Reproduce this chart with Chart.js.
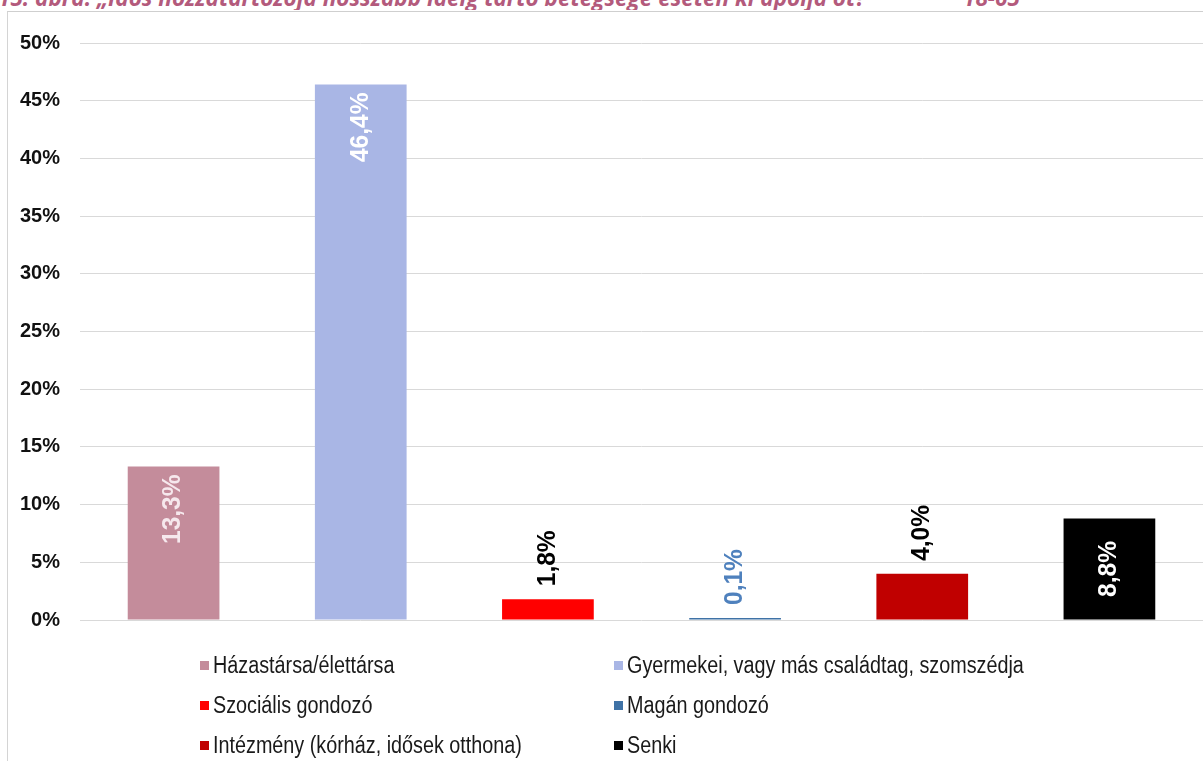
<!DOCTYPE html>
<html lang="hu">
<head>
<meta charset="utf-8">
<script src="https://cdn.jsdelivr.net/npm/chart.js@4/dist/chart.umd.min.js"></script>
<style>
  html, body { margin: 0; padding: 0; background: #fff; }
  #wrap { position: relative; width: 1203px; height: 761px; overflow: hidden; }
  #frame { position: absolute; left: 7px; top: 11px; width: 1300px; height: 800px;
           border-left: 1px solid #d4d4d4; border-top: 1px solid #cfcfcf; }
  #title { position: absolute; left: 0; top: 0; width: 1203px; height: 10px; overflow: hidden; }
  #title span { position: absolute; top: -18px; white-space: nowrap;
                font: italic 700 22.5px "Open Sans", sans-serif; color: #b35a7c; }
  #chart { position: absolute; left: 0; top: 0; }
  .leg { position: absolute; height: 20px; white-space: nowrap; }
  .leg i { position: absolute; left: 0; top: 6px; width: 9px; height: 9px; }
  .leg span { position: absolute; left: 13px; top: -3px; font: 23px "Liberation Sans", Arial, sans-serif;
              color: #1a1a1a; transform: scaleX(0.86); transform-origin: 0 50%; }
</style>
</head>
<body>
<div id="wrap">
  <div id="title">
    <span style="left:-2px">15. ábra: „Idős hozzátartozója hosszabb ideig tartó betegsége esetén ki ápolja őt?”</span>
    <span style="left:963px">18-65</span>
  </div>
  <div id="frame"></div>
  <canvas id="chart" width="1203" height="761"></canvas>
  <div id="legend"></div>
</div>
<script>
// kategóriák és arányok (%)
const kategoriak = [
  'Házastársa/élettársa',
  'Gyermekei, vagy más családtag, szomszédja',
  'Szociális gondozó',
  'Magán gondozó',
  'Intézmény (kórház, idősek otthona)',
  'Senki'
];
const ertekek = [13.3, 46.4, 1.8, 0.1, 4.0, 8.8];
const yTicks = [0, 5, 10, 15, 20, 25, 30, 35, 40, 45, 50];

const szinek = ['#c48c9b', '#a9b6e5', '#ff0000', '#3f72a6', '#c00000', '#000000'];
const cimkeSzinek = ['#f6e8ed', '#ffffff', '#000000', '#4f81bd', '#000000', '#ffffff'];
// felirat helye: a sáv tetején belül, fölötte vagy középen
const cimkeHely = ['end', 'end', 'out', 'out', 'out', 'center'];

// függőleges értékcímkék
const ertekCimkek = {
  id: 'ertekCimkek',
  afterDatasetsDraw(chart) {
    const ctx = chart.ctx;
    const meta = chart.getDatasetMeta(0);
    meta.data.forEach((bar, i) => {
      const txt = ertekek[i].toFixed(1).replace('.', ',') + '%';
      let y, align;
      if (cimkeHely[i] === 'end') { y = bar.y + 8; align = 'right'; }
      else if (cimkeHely[i] === 'out') { y = bar.y - 13; align = 'left'; }
      else { y = (bar.y + bar.base) / 2; align = 'center'; }
      ctx.save();
      ctx.translate(bar.x, y);
      ctx.rotate(-Math.PI / 2);
      ctx.scale(0.98, 1);
      ctx.font = 'bold 25px "Liberation Sans", Arial, sans-serif';
      ctx.fillStyle = cimkeSzinek[i];
      ctx.textAlign = align;
      ctx.textBaseline = 'middle';
      ctx.fillText(txt, 0, 0);
      ctx.restore();
    });
  }
};

new Chart(document.getElementById('chart'), {
  type: 'bar',
  data: {
    labels: kategoriak,
    datasets: [{
      data: ertekek,
      backgroundColor: szinek,
      borderWidth: 0,
      minBarLength: 2,
      categoryPercentage: 1,
      barPercentage: 0.49
    }]
  },
  options: {
    responsive: false,
    animation: false,
    layout: { padding: { top: 43, bottom: 141, left: 0, right: 0 } },
    plugins: { legend: { display: false }, tooltip: { enabled: false } },
    scales: {
      x: { display: false },
      y: {
        min: 0, max: 50,
        afterFit(scale) { scale.width = 80; },
        afterBuildTicks(scale) { scale.ticks = yTicks.map(v => ({ value: v })); },
        border: { display: false },
        grid: { color: '#d9d9d9', drawTicks: false, lineWidth: 1 },
        ticks: {
          padding: 20,
          color: '#111',
          font: { family: '"Liberation Sans", Arial, sans-serif', size: 20, weight: 'bold' },
          callback: v => v + '%'
        }
      }
    }
  },
  plugins: [ertekCimkek]
});

// jelmagyarázat két oszlopban
const legend = document.getElementById('legend');
const oszlopX = [200, 614];
const sorY = [655, 695, 735];
kategoriak.forEach((nev, i) => {
  const el = document.createElement('div');
  el.className = 'leg';
  el.style.left = oszlopX[i % 2] + 'px';
  el.style.top = sorY[Math.floor(i / 2)] + 'px';
  el.innerHTML = '<i style="background:' + szinek[i] + '"></i><span>' + nev + '</span>';
  legend.appendChild(el);
});
</script>
</body>
</html>
